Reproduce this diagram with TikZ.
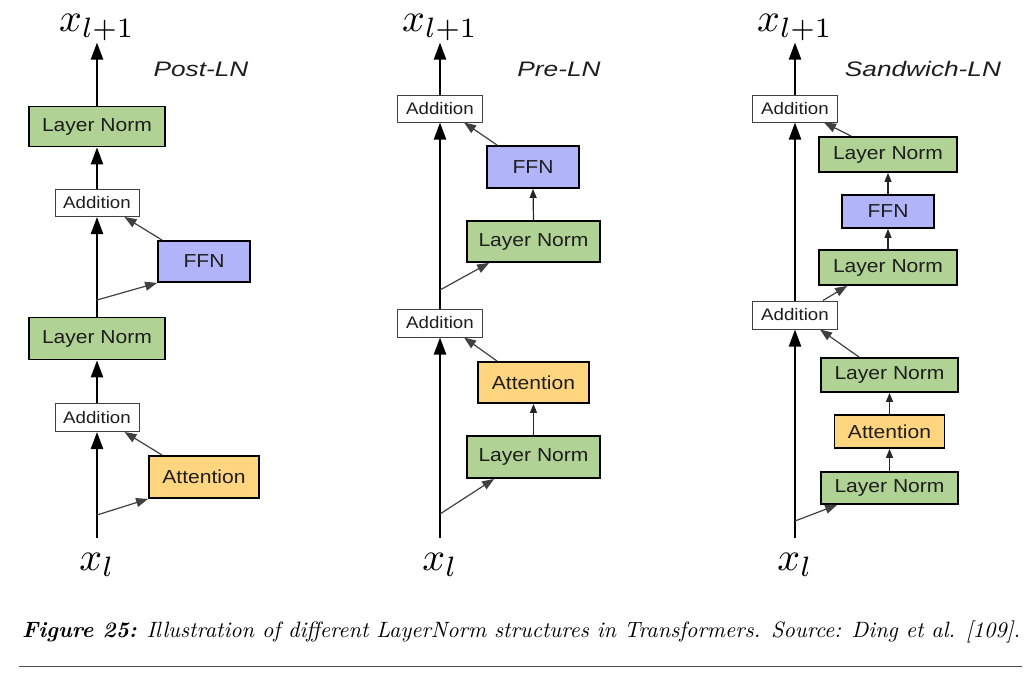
\documentclass[tikz,border=0pt]{standalone}
\usepackage{fontspec}
\usepackage{graphicx}
\usetikzlibrary{arrows.meta,calc}
\newfontfamily\boxfont[FakeStretch=1.12]{Liberation Sans}
\newfontfamily\labfont[FakeStretch=1.25]{Liberation Sans}
\definecolor{lngreen}{RGB}{176,210,148}
\definecolor{ffnblue}{RGB}{178,180,250}
\definecolor{attorange}{RGB}{255,213,128}
\definecolor{txtdark}{RGB}{30,30,30}
\newcommand{\bigmath}[1]{\scalebox{4}{$#1$}}
\begin{document}
\begin{tikzpicture}[x=1pt,y=-1pt,
  blk/.style={draw=black, line width=1.8pt, inner sep=0pt, text=txtdark,
    font=\boxfont\fontsize{18.8}{20}\selectfont},
  lnbox/.style={blk, fill=lngreen},
  ffnbox/.style={blk, fill=ffnblue},
  attbox/.style={blk, fill=attorange},
  addbox/.style={draw=black!75, line width=1pt, fill=white, inner sep=0pt, text=txtdark,
    font=\boxfont\fontsize{16.7}{18}\selectfont, minimum width=85, minimum height=27},
  mathlab/.style={inner sep=1pt},
  titlelab/.style={anchor=base, inner sep=0pt, text=txtdark, font=\labfont\itshape\fontsize{21}{24}\selectfont},
  trunk/.style={line width=2.2pt, draw=black, -{Triangle[length=17pt,width=12pt]}},
  side/.style={line width=1.2pt, draw=black!75, -{Triangle[length=12pt,width=9pt]}},
  link/.style={line width=1.2pt, draw=black!85, -{Triangle[length=9pt,width=7pt]}},
]
\useasboundingbox (0,0) rectangle (1035,677);

% ---------------- Post-LN ----------------
\node[mathlab, anchor=base] (pxo) at (97,32) {\bigmath{x_{l+1}}};
\node[titlelab] (ptitle) at (201,77) {Post-LN};
\node[lnbox, minimum width=136, minimum height=40] (pln2) at (97,126.5) {Layer Norm};
\node[addbox, minimum width=84] (padd2) at (97,203) {Addition};
\node[ffnbox, minimum width=92, minimum height=41] (pffn) at (204,261.5) {FFN};
\node[lnbox, minimum width=136, minimum height=42] (pln1) at (97,338.5) {Layer Norm};
\node[addbox, minimum width=84, minimum height=28] (padd1) at (97,417.5) {Addition};
\node[attbox, minimum width=110, minimum height=42] (patt) at (204,477) {Attention};
\node[mathlab, anchor=base] (pxi) at (97,570) {\bigmath{x_l}};
\coordinate (pin) at (97,538);
\coordinate (pb1) at (97,515);
\coordinate (pb2) at (97,300);

\draw[trunk] (pin) -- (padd1.south);
\draw[side] (pb1) -- (patt.south west);
\draw[side] ($(patt.north west)+(14,0)$) -- ($(padd1.south east)+(-15,0)$);
\draw[trunk] (padd1.north) -- (pln1.south);
\draw[trunk] (pln1.north) -- (padd2.south);
\draw[side] (pb2) -- (pffn.south west);
\draw[side] ($(pffn.north west)+(5,0)$) -- ($(padd2.south east)+(-15,0)$);
\draw[trunk] (padd2.north) -- (pln2.south);
\draw[trunk] (pln2.north) -- (pxo.south);

% ---------------- Pre-LN ----------------
\node[mathlab, anchor=base] (qxo) at (440,32) {\bigmath{x_{l+1}}};
\node[titlelab] (qtitle) at (559,77) {Pre-LN};
\node[addbox] (qadd2) at (440,108.5) {Addition};
\node[ffnbox, minimum width=92, minimum height=42] (qffn) at (533,167) {FFN};
\node[lnbox, minimum width=133, minimum height=41] (qln2) at (533.5,241.5) {Layer Norm};
\node[addbox, minimum height=28] (qadd1) at (440,323) {Addition};
\node[attbox, minimum width=111, minimum height=41] (qatt) at (533.5,382.5) {Attention};
\node[lnbox, minimum width=133, minimum height=42] (qln1) at (533.5,457) {Layer Norm};
\node[mathlab, anchor=base] (qxi) at (440,570) {\bigmath{x_l}};
\coordinate (qin) at (440,538);
\coordinate (qb1) at (440,514);
\coordinate (qb2) at (440,290);

\draw[trunk] (qin) -- (qadd1.south);
\draw[side] (qb1) -- ($(qln1.south west)+(28,0)$);
\draw[link] (qln1.north) -- (qatt.south);
\draw[side] ($(qatt.north west)+(20,0)$) -- ($(qadd1.south east)+(-19,0)$);
\draw[trunk] (qadd1.north) -- (qadd2.south);
\draw[side] (qb2) -- ($(qln2.south west)+(23,0)$);
\draw[link] (qln2.north) -- (qffn.south);
\draw[side] ($(qffn.north west)+(11,0)$) -- ($(qadd2.south east)+(-19,0)$);
\draw[trunk] (qadd2.north) -- (qxo.south);

% ---------------- Sandwich-LN ----------------
\node[mathlab, anchor=base] (sxo) at (795,32) {\bigmath{x_{l+1}}};
\node[titlelab] (stitle) at (923,77) {Sandwich-LN};
\node[addbox] (sadd2) at (795,108.5) {Addition};
\node[lnbox, minimum width=138, minimum height=35] (sln4) at (888,154.5) {Layer Norm};
\node[ffnbox, minimum width=92, minimum height=33] (sffn) at (888,211.5) {FFN};
\node[lnbox, minimum width=138, minimum height=35] (sln3) at (888,267.5) {Layer Norm};
\node[addbox, minimum height=28] (sadd1) at (795,315) {Addition};
\node[lnbox, minimum width=137, minimum height=34] (sln2) at (889.5,375) {Layer Norm};
\node[attbox, minimum width=110, minimum height=33] (satt) at (889.5,431.5) {Attention};
\node[lnbox, minimum width=137, minimum height=32] (sln1) at (889.5,488) {Layer Norm};
\node[mathlab, anchor=base] (sxi) at (795,570) {\bigmath{x_l}};
\coordinate (sin) at (795,538);
\coordinate (sb1) at (795,521);

\draw[trunk] (sin) -- (sadd1.south);
\draw[side] (sb1) -- ($(sln1.south west)+(17,0)$);
\draw[link] (sln1.north) -- (satt.south);
\draw[link] (satt.north) -- (sln2.south);
\draw[side] ($(sln2.north west)+(39,0)$) -- ($(sadd1.south east)+(-18,0)$);
\draw[trunk] (sadd1.north) -- (sadd2.south);
\draw[side] ($(sadd1.north east)+(-15,0)$) -- ($(sln3.south west)+(29,0)$);
\draw[link] (sln3.north) -- (sffn.south);
\draw[link] (sffn.north) -- (sln4.south);
\draw[side] ($(sln4.north west)+(33,0)$) -- ($(sadd2.south east)+(-14,0)$);
\draw[trunk] (sadd2.north) -- (sxo.south);

% ---------------- Caption ----------------
\node[anchor=base west, inner sep=0pt] (cap) at (22,637)
  {\resizebox{998pt}{!}{\fontsize{10}{12}\selectfont\textbf{\textit{Figure 25:}} \textit{Illustration of different LayerNorm structures in Transformers. Source: Ding et al. [109].}}};
\draw[line width=1pt, draw=black!70] (19,666) -- (1022,666);
\end{tikzpicture}
\end{document}
